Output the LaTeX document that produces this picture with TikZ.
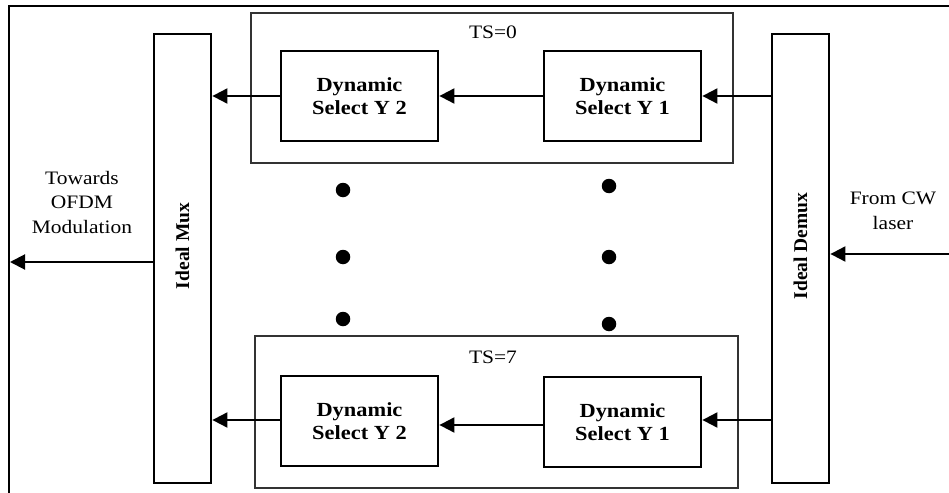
\documentclass[tikz,border=0pt]{standalone}
\usepackage{fontspec}
\setmainfont{Liberation Serif}
\newfontfamily\widefont[FakeStretch=1.13]{Liberation Serif}
\newfontfamily\widebold[FakeStretch=1.12]{Liberation Serif Bold}
\usetikzlibrary{arrows.meta}
\begin{document}
\begin{tikzpicture}[x=1pt,y=-1pt,
  txt/.style={font=\widefont\fontsize{19}{24.5}\selectfont, align=center, inner sep=0pt},
  blk/.style={draw, line width=2.8pt, minimum width=157pt, minimum height=90pt, inner sep=0pt,
    align=center, font=\widebold\fontsize{20}{23.5}\selectfont},
  tall/.style={draw, line width=2.8pt, minimum width=57pt, minimum height=449pt, inner sep=0pt},
  vlab/.style={rotate=90, inner sep=0pt, font=\bfseries\fontsize{19.5}{24}\selectfont},
  grp/.style={draw=black!80, line width=1.1pt, inner sep=0pt},
  arr/.style={line width=2pt, -{Triangle[length=15pt,width=15pt]}},
  dot/.style={circle, fill=black, minimum size=14.5pt, inner sep=0pt}]
\useasboundingbox (0,0) rectangle (949,492);
% outer frame
\draw[line width=2.2pt] (9,493) -- (9,6) -- (950,6);
% group boxes
\node[grp, minimum width=482pt, minimum height=150pt] (g0) at (492,88) {};
\node[grp, minimum width=483pt, minimum height=152pt] (g7) at (496.5,412) {};
\node[txt] (ts0) at (493,32) {TS=0};
\node[txt] (ts7) at (493,357) {TS=7};
% mux / demux
\node[tall] (mux) at (182.5,258.5) {};
\node[tall] (dmx) at (800.5,258.5) {};
\node[vlab] (muxl) at (182.5,246) {Ideal Mux};
\node[vlab] (dmxl) at (800.5,246) {Ideal Demux};
% blocks
\node[blk] (a2) at (359.5,96) {Dynamic\\Select Y 2};
\node[blk] (a1) at (622.5,96) {Dynamic\\Select Y 1};
\node[blk] (b2) at (359.5,421) {Dynamic\\Select Y 2};
\node[blk] (b1) at (622.5,422) {Dynamic\\Select Y 1};
% connectors
\draw[arr] (dmx.west |- a1.east) -- (a1.east);
\draw[arr] (a1.west) -- (a2.east |- a1.west);
\draw[arr] (a2.west) -- (mux.east |- a2.west);
\draw[arr] ([yshift=2pt]dmx.west |- b1.east) -- ([yshift=2pt]b1.east);
\draw[arr] ([yshift=-3pt]b1.west) -- ([yshift=-3pt]b2.east |- b1.west);
\draw[arr] ([yshift=1pt]b2.west) -- ([yshift=1pt]mux.east |- b2.west);
% external
\coordinate (outL) at (10,262);
\coordinate (inR) at (950,254);
\draw[arr] (mux.west |- outL) -- (outL);
\draw[arr] (inR) -- (dmx.east |- inR);
\node[txt] (towards) at (82,202) {Towards\\OFDM\\Modulation};
\node[txt] (fromcw) at (893,211) {From CW\\laser};
% dots
\node[dot] (d1) at (343,190) {};
\node[dot] (d2) at (343,257) {};
\node[dot] (d3) at (343,319) {};
\node[dot] (d4) at (609,186) {};
\node[dot] (d5) at (609,257) {};
\node[dot] (d6) at (609,324) {};
\end{tikzpicture}
\end{document}
